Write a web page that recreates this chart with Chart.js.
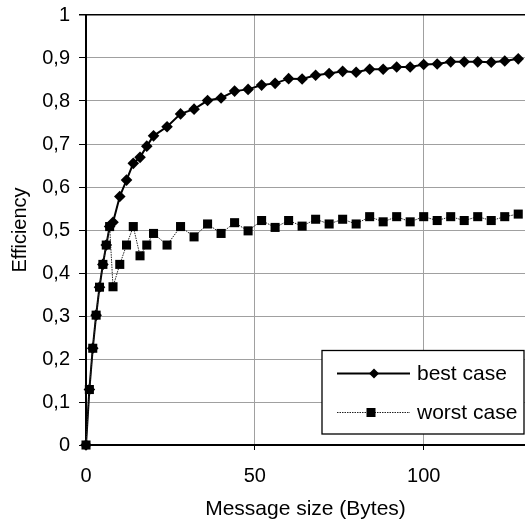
<!DOCTYPE html>
<html>
<head>
<meta charset="utf-8">
<script src="https://cdn.jsdelivr.net/npm/chart.js@4/dist/chart.umd.min.js"></script>
<style>
  html, body { margin: 0; padding: 0; background: #fff; }
  #wrap { width: 525px; height: 522px; position: relative; }
</style>
</head>
<body>
<div id="wrap"><canvas id="c" width="525" height="522"></canvas></div>
<script>
// ---- data ----
const messageSizes = [0, 1, 2, 3, 4, 5, 6, 7, 8, 10, 12, 14, 16, 18, 20, 24, 28, 32, 36, 40, 44, 48, 52, 56, 60, 64, 68, 72, 76, 80, 84, 88, 92, 96, 100, 104, 108, 112, 116, 120, 124, 128];
const bestCase = [0, 0.129, 0.225, 0.302, 0.367, 0.42, 0.465, 0.508, 0.518, 0.578, 0.616, 0.655, 0.669, 0.695, 0.719, 0.74, 0.77, 0.781, 0.801, 0.807, 0.823, 0.827, 0.837, 0.841, 0.852, 0.851, 0.86, 0.864, 0.869, 0.867, 0.874, 0.874, 0.879, 0.879, 0.885, 0.886, 0.891, 0.891, 0.891, 0.89, 0.893, 0.898];
const worstCase = [0, 0.129, 0.225, 0.302, 0.367, 0.42, 0.465, 0.508, 0.368, 0.42, 0.465, 0.508, 0.44, 0.465, 0.492, 0.465, 0.508, 0.484, 0.514, 0.492, 0.517, 0.498, 0.522, 0.506, 0.522, 0.509, 0.525, 0.514, 0.525, 0.514, 0.531, 0.519, 0.531, 0.519, 0.531, 0.522, 0.531, 0.522, 0.531, 0.522, 0.531, 0.537];
const seriesNames = ['best case', 'worst case'];
const xTicks = [0, 50, 100];
const yTickLabels = ['0', '0,1', '0,2', '0,3', '0,4', '0,5', '0,6', '0,7', '0,8', '0,9', '1'];
const xTitle = 'Message size (Bytes)';
const yTitle = 'Efficiency';

// ---- chart ----
const FAMILY = "'Liberation Sans', Arial, sans-serif";
Chart.defaults.font.family = FAMILY;
Chart.defaults.font.size = 20;
Chart.defaults.color = '#000';

const GRID = '#a0a0a0';

const toPoints = (ys) => messageSizes.map((x, i) => ({ x: x, y: ys[i] }));

const boxLegend = {
  id: 'boxLegend',
  afterDraw(chart) {
    const ctx = chart.ctx;
    const a = chart.chartArea;
    const L = a.right - 203, T = a.top + 335.5, W = 202, H = 83.5;
    ctx.save();
    ctx.fillStyle = '#fff';
    ctx.fillRect(L, T, W, H);
    ctx.strokeStyle = '#000';
    ctx.lineWidth = 1.3;
    ctx.strokeRect(L, T, W, H);
    const ds = chart.data.datasets;
    const rows = [T + 23, T + 62];
    const order = [1, 0]; // best case first, then worst case
    ctx.font = "21px " + FAMILY;
    ctx.textBaseline = 'middle';
    ctx.textAlign = 'left';
    order.forEach((di, r) => {
      const d = ds[di];
      const y = rows[r];
      ctx.beginPath();
      ctx.setLineDash(d.borderDash || []);
      ctx.lineWidth = d.borderWidth;
      ctx.strokeStyle = d.borderColor;
      ctx.moveTo(L + 15, y);
      ctx.lineTo(L + 88, y);
      ctx.stroke();
      ctx.setLineDash([]);
      ctx.fillStyle = '#000';
      if (d.pointStyle === 'rectRot') {
        const cx = L + 52;
        ctx.beginPath();
        ctx.moveTo(cx, y - 5); ctx.lineTo(cx + 5, y); ctx.lineTo(cx, y + 5); ctx.lineTo(cx - 5, y);
        ctx.closePath(); ctx.fill();
      } else {
        const cx = L + 49;
        ctx.fillRect(cx - 4.5, y - 4.5, 9, 9);
      }
      ctx.fillText(d.label, L + 95, y + 1);
    });
    ctx.restore();
  }
};

new Chart(document.getElementById('c'), {
  type: 'line',
  data: {
    datasets: [
      {
        label: seriesNames[1],
        data: toPoints(worstCase),
        borderColor: '#222',
        borderWidth: 1,
        borderDash: [1.5, 1],
        pointStyle: 'rect',
        pointRadius: 6.4,
        pointBackgroundColor: '#000',
        pointBorderColor: '#000',
        pointBorderWidth: 0,
        clip: false,
        order: 0
      },
      {
        label: seriesNames[0],
        data: toPoints(bestCase),
        borderColor: '#000',
        borderWidth: 2,
        pointStyle: 'rectRot',
        pointRadius: 5.8,
        pointBackgroundColor: '#000',
        pointBorderColor: '#000',
        pointBorderWidth: 0,
        clip: false,
        order: 1
      }
    ]
  },
  options: {
    responsive: false,
    animation: false,
    layout: { autoPadding: false, padding: { top: 15, right: 0, left: 0, bottom: 0 } },
    plugins: { legend: { display: false }, tooltip: { enabled: false } },
    elements: { line: { tension: 0 } },
    scales: {
      x: {
        type: 'linear',
        min: 0,
        max: 130,
        afterBuildTicks: (s) => { s.ticks = xTicks.map(v => ({ value: v })); },
        afterFit: (s) => { s.height = 77; s.paddingLeft = 0; s.paddingRight = 0; },
        ticks: { padding: 14, maxRotation: 0, autoSkip: false },
        grid: { color: GRID, lineWidth: 1, tickColor: '#000', tickLength: 5, drawTicks: true },
        border: { color: '#000', width: 2 },
        title: { display: true, text: xTitle, padding: { top: 0, bottom: 0 }, font: { size: 21 } }
      },
      y: {
        min: 0,
        max: 1,
        ticks: { stepSize: 0.1, padding: 9, callback: (v, i) => yTickLabels[i] },
        afterFit: (s) => { s.width = 86; s.paddingTop = 0; s.paddingBottom = 0; },
        grid: {
          color: (c) => (c.tick && Math.abs(c.tick.value - 1) < 1e-9) ? '#000' : GRID,
          lineWidth: (c) => (c.tick && Math.abs(c.tick.value - 1) < 1e-9) ? 1.5 : 1,
          tickColor: '#000',
          tickLength: 7,
          drawTicks: true
        },
        border: { color: '#000', width: 2 },
        title: { display: true, text: yTitle, padding: { top: 8, bottom: 0 }, font: { size: 20 } }
      }
    }
  },
  plugins: [boxLegend]
});
</script>
</body>
</html>
